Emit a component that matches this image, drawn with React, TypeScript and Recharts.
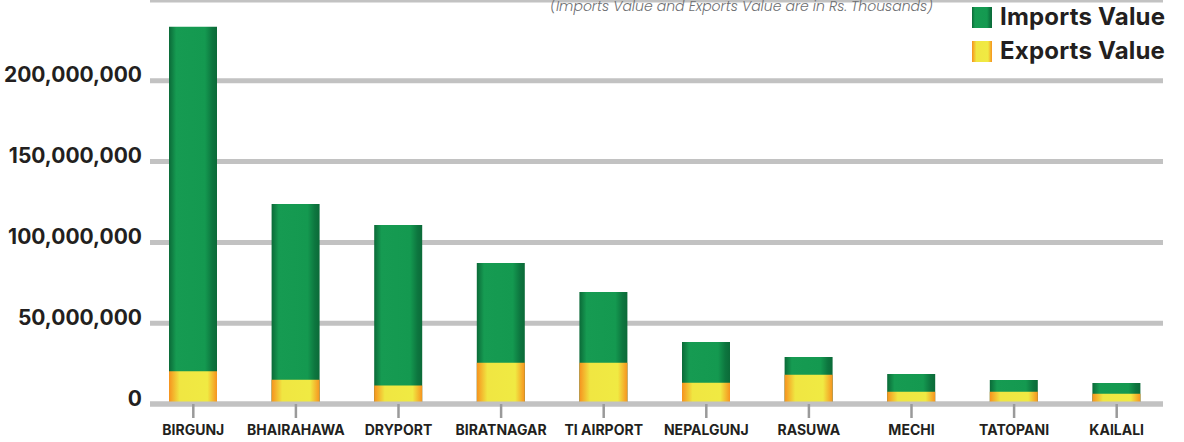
import React from "react";
import { BarChart, Bar, XAxis, YAxis, CartesianGrid } from "recharts";

const categories = ["BIRGUNJ", "BHAIRAHAWA", "DRYPORT", "BIRATNAGAR", "TI AIRPORT", "NEPALGUNJ", "RASUWA", "MECHI", "TATOPANI", "KAILALI"];
const importsValue = [233400000, 123800000, 110800000, 87300000, 69300000, 38400000, 29100000, 18600000, 14900000, 13000000];
const exportsValue = [20200000, 15000000, 11500000, 25600000, 25600000, 13200000, 18100000, 7600000, 7600000, 6400000];
const yTicks = [0, 50000000, 100000000, 150000000, 200000000];

const data = categories.map((c, i) => ({ name: c, imports: importsValue[i], exports: exportsValue[i] }));

const FONT = "Inter, 'Open Sans', sans-serif";
const TEXT = "#231f20";

const YTick = (props: any) => {
  const { x, y, payload } = props;
  return (
    <text x={x} y={y} dy={-6} textAnchor="end" dominantBaseline="central" fill={TEXT} fontFamily={FONT} fontWeight={700} fontSize={21}>
      {payload.value.toLocaleString("en-US")}
    </text>
  );
};

const XTick = (props: any) => {
  const { x, y, payload } = props;
  return (
    <text x={x} y={y} dy={11} textAnchor="middle" fill={TEXT} fontFamily={FONT} fontWeight={700} fontSize={14}>
      {payload.value}
    </text>
  );
};

const greenGrad = "linear-gradient(to right, #0b6a38 0%, #169b52 15%, #149950 75%, #0d763f 90%, #0b6a38 100%)";
const yellowGrad = "linear-gradient(to right, #f6921e 0%, #f0e642 22%, #f0ea43 80%, #f6931f 100%)";

export default function App() {
  return (
    <div style={{ position: "absolute", left: 0, top: 0, width: 1184, height: 442, background: "#fff", overflow: "hidden" }}>
      <BarChart width={1184} height={442} data={data} margin={{ top: 0, right: 21, bottom: 0, left: 0 }} barSize={48} barGap={-48}>
        <defs>
          <linearGradient id="gGreen" x1="0" y1="0" x2="1" y2="0">
            <stop offset="0%" stopColor="#0b6a38" />
            <stop offset="15%" stopColor="#169b52" />
            <stop offset="75%" stopColor="#149950" />
            <stop offset="90%" stopColor="#0d763f" />
            <stop offset="100%" stopColor="#0b6a38" />
          </linearGradient>
          <linearGradient id="gYellow" x1="0" y1="0" x2="1" y2="0">
            <stop offset="0%" stopColor="#f6921e" />
            <stop offset="22%" stopColor="#f0e642" />
            <stop offset="80%" stopColor="#f0ea43" />
            <stop offset="100%" stopColor="#f6931f" />
          </linearGradient>
        </defs>
        <CartesianGrid vertical={false} stroke="#c2c2c2" strokeWidth={5} />
        <YAxis
          width={150}
          domain={[0, 250000000]}
          ticks={yTicks}
          axisLine={false}
          tickLine={false}
          tickSize={0}
          tickMargin={8}
          tick={<YTick />}
          interval={0}
        />
        <XAxis
          dataKey="name"
          height={38}
          padding={{ left: -8, right: -5 }}
          axisLine={{ stroke: "#c2c2c2", strokeWidth: 5 }}
          tickLine={{ stroke: "#9a9a9a", strokeWidth: 2.5 }}
          tickSize={14}
          tickMargin={6}
          tick={<XTick />}
          interval={0}
        />
        <Bar dataKey="imports" fill="url(#gGreen)" isAnimationActive={false} />
        <Bar dataKey="exports" fill="url(#gYellow)" isAnimationActive={false} />
      </BarChart>
      <div style={{ position: "absolute", right: 251, top: -4, fontFamily: "Poppins, " + FONT, fontStyle: "italic", fontWeight: 300, fontSize: 14, color: "#6d6e71", whiteSpace: "nowrap" }}>
        (Imports Value and Exports Value are in Rs. Thousands)
      </div>
      <div style={{ position: "absolute", left: 972, top: 0, fontFamily: FONT, fontWeight: 700, fontSize: 24, color: TEXT, lineHeight: "34px", letterSpacing: 0.2 }}>
        <div style={{ display: "flex", alignItems: "center" }}>
          <span style={{ display: "inline-block", width: 20, height: 21, background: greenGrad, marginRight: 8 }} />
          <span>Imports Value</span>
        </div>
        <div style={{ display: "flex", alignItems: "center" }}>
          <span style={{ display: "inline-block", width: 20, height: 21, background: yellowGrad, marginRight: 8 }} />
          <span>Exports Value</span>
        </div>
      </div>
    </div>
  );
}
